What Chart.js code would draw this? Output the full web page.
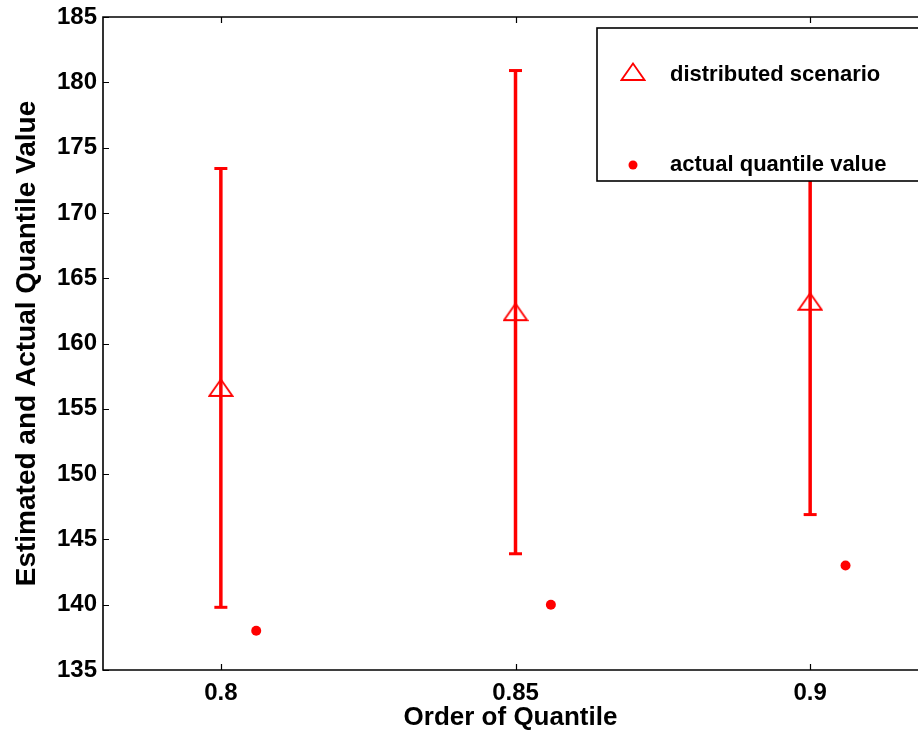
<!DOCTYPE html>
<html>
<head>
<meta charset="utf-8">
<script src="https://cdn.jsdelivr.net/npm/chart.js@4/dist/chart.umd.min.js"></script>
<style>
  html, body { margin: 0; padding: 0; background: #fff; }
  #wrap { width: 918px; height: 733px; }
</style>
</head>
<body>
<div id="wrap"><canvas id="quantiles"></canvas></div>
<script>
// order of quantile (x) and tick labels
const quantileOrder = [0.8, 0.85, 0.9];
const xTickValues = [0.8, 0.85, 0.9];

// distributed scenario: estimate with lower/upper bounds
const estimated = [156.6, 162.4, 163.2];
const lowerBound = [139.8, 143.9, 146.9];
const upperBound = [173.4, 180.9, 179.5];

// actual quantile values (plotted slightly right of each order)
const actualOrder = [0.806, 0.856, 0.906];
const actualValue = [138.0, 140.0, 143.0];

const RED = "#ff0000";
const FONT = "'Liberation Sans', Arial, Helvetica, sans-serif";

// open triangle marker, a bit flatter than chart.js' built-in one
function makeTriangle() {
  const c = document.createElement("canvas");
  c.width = 26; c.height = 20;
  const g = c.getContext("2d");
  g.strokeStyle = RED;
  g.lineWidth = 1.8;
  g.beginPath();
  g.moveTo(13, 1.5);
  g.lineTo(24.5, 18);
  g.lineTo(1.5, 18);
  g.closePath();
  g.stroke();
  return c;
}
const triangle = makeTriangle();

const errorBarSets = quantileOrder.map(function (q, i) {
  return {
    label: "bar" + i,
    data: [{ x: q, y: lowerBound[i] }, { x: q, y: upperBound[i] }],
    showLine: true,
    borderColor: RED,
    borderWidth: 3.5,
    pointStyle: "line",
    pointRadius: 6.5,
    pointBorderWidth: 3,
    pointBorderColor: RED,
    order: 3
  };
});

const datasets = errorBarSets.concat([
  {
    label: "distributed scenario",
    data: quantileOrder.map(function (q, i) { return { x: q, y: estimated[i] }; }),
    pointStyle: triangle,
    pointRadius: 12,
    order: 1
  },
  {
    label: "actual quantile value",
    data: actualOrder.map(function (q, i) { return { x: q, y: actualValue[i] }; }),
    pointStyle: "circle",
    pointRadius: 5,
    backgroundColor: RED,
    borderColor: RED,
    borderWidth: 0,
    order: 2
  }
]);

// frame, inward ticks and the boxed legend, drawn like the matlab figure
const framePlugin = {
  id: "frame",
  afterDatasetsDraw(chart) {
    const ctx = chart.ctx;
    const a = chart.chartArea;
    const xs = chart.scales.x, ys = chart.scales.y;
    ctx.save();
    ctx.strokeStyle = "#000";
    ctx.lineWidth = 1.6;
    ctx.beginPath();
    ctx.moveTo(a.right + 2, a.top); ctx.lineTo(a.left, a.top);
    ctx.lineTo(a.left, a.bottom); ctx.lineTo(a.right + 2, a.bottom);
    ctx.stroke();
    ctx.lineWidth = 1.2;
    ctx.beginPath();
    xs.ticks.forEach(function (t) {
      const px = Math.round(xs.getPixelForValue(t.value)) + 0.5;
      ctx.moveTo(px, a.bottom); ctx.lineTo(px, a.bottom - 6);
      ctx.moveTo(px, a.top); ctx.lineTo(px, a.top + 6);
    });
    ys.ticks.forEach(function (t) {
      const py = Math.round(ys.getPixelForValue(t.value)) + 0.5;
      ctx.moveTo(a.left, py); ctx.lineTo(a.left + 6, py);
    });
    ctx.stroke();

    // legend box
    const bx = a.right - 321, by = a.top + 11, bw = 330, bh = 153;
    ctx.fillStyle = "#fff";
    ctx.fillRect(bx, by, bw, bh);
    ctx.lineWidth = 1.6;
    ctx.strokeRect(bx, by, bw, bh);
    ctx.drawImage(triangle, bx + 36 - 13, by + 44 - 10);
    ctx.fillStyle = RED;
    ctx.beginPath();
    ctx.arc(bx + 36, by + 137, 4.5, 0, Math.PI * 2);
    ctx.fill();
    ctx.fillStyle = "#000";
    ctx.font = "bold 22px " + FONT;
    ctx.textBaseline = "middle";
    ctx.fillText(chart.data.datasets[3].label, bx + 73, by + 47);
    ctx.fillText(chart.data.datasets[4].label, bx + 73, by + 137);
    ctx.restore();
  }
};

new Chart(document.getElementById("quantiles"), {
  type: "scatter",
  data: { datasets: datasets },
  plugins: [framePlugin],
  options: {
    responsive: true,
    maintainAspectRatio: false,
    animation: false,
    events: [],
    layout: { autoPadding: false, padding: { top: 17, right: 0, left: 0, bottom: 0 } },
    plugins: { legend: { display: false }, tooltip: { enabled: false } },
    scales: {
      x: {
        type: "linear",
        min: 0.78,
        max: 0.9183,
        afterBuildTicks(scale) {
          scale.ticks = xTickValues.map(function (v) { return { value: v }; });
        },
        afterFit(scale) {
          scale.height = 63;
          scale.paddingRight = 0;
        },
        grid: { display: false, drawTicks: false },
        border: { display: false },
        ticks: {
          color: "#000",
          padding: 9,
          font: { family: FONT, size: 24, weight: "bold" },
          callback: function (v) { return String(v); }
        },
        title: {
          display: true,
          text: "Order of Quantile",
          color: "#000",
          padding: { top: 0, bottom: 0 },
          font: { family: FONT, size: 26, weight: "bold" }
        }
      },
      y: {
        min: 135,
        max: 185,
        afterFit(scale) {
          scale.width = 103;
          scale.paddingTop = 0;
        },
        grid: { display: false, drawTicks: false },
        border: { display: false },
        ticks: {
          stepSize: 5,
          color: "#000",
          padding: 6,
          font: { family: FONT, size: 24, weight: "bold" }
        },
        title: {
          display: true,
          text: "Estimated and Actual Quantile Value",
          color: "#000",
          padding: { top: 10, bottom: 0 },
          font: { family: FONT, size: 28, weight: "bold" }
        }
      }
    }
  }
});
</script>
</body>
</html>
